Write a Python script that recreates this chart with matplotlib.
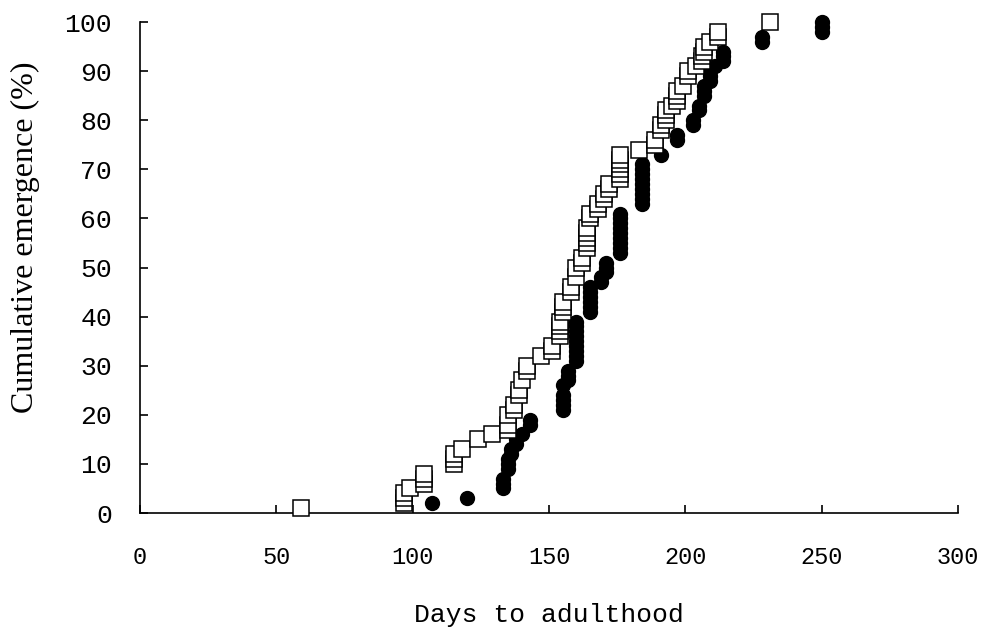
import numpy as np
import matplotlib
matplotlib.use("Agg")
import matplotlib.pyplot as plt

# open squares: days to adulthood and cumulative emergence (%)
sq_days = [59,
           97, 97, 97, 99, 104, 104, 104, 115, 115, 115, 118, 124, 129,
           135, 135, 135, 137, 137, 139, 139, 140, 142, 142, 147, 151, 151,
           154, 154, 154, 154, 155, 155, 155, 158, 158, 160, 160, 162, 162,
           164, 164, 164, 164, 164, 165, 165, 168, 168, 170, 170, 172, 172,
           176, 176, 176, 176, 176, 176, 183, 189, 189, 191, 191,
           193, 193, 193, 195, 197, 197, 197, 199, 201, 201, 204,
           206, 206, 207, 207, 209, 212, 212, 231]
sq_pct = [1,
          2, 3, 4, 5, 6, 7, 8, 10, 11, 12, 13, 15, 16,
          17, 18, 20, 21, 22, 24, 25, 27, 29, 30, 32, 33, 34,
          36, 37, 38, 39, 41, 42, 43, 45, 46, 48, 50, 51, 52,
          54, 55, 56, 57, 58, 60, 61, 62, 63, 64, 65, 66, 67,
          68, 69, 70, 71, 72, 73, 74, 75, 76, 78, 79,
          80, 81, 82, 83, 84, 85, 86, 87, 89, 90, 91,
          92, 93, 94, 95, 96, 97, 98, 100]

# filled circles
ci_days = [107, 120, 133, 133, 133, 135, 135, 135, 136, 136, 138, 138, 140,
           143, 143, 155, 155, 155, 155, 155, 157, 157, 157,
           160, 160, 160, 160, 160, 160, 160, 160, 160,
           165, 165, 165, 165, 165, 165, 169, 169, 171, 171, 171,
           176, 176, 176, 176, 176, 176, 176, 176, 176,
           184, 184, 184, 184, 184, 184, 184, 184, 184,
           191, 197, 197, 203, 203, 205, 205, 207, 207, 207,
           209, 209, 209, 211, 214, 214, 214, 228, 228, 250, 250, 250]
ci_pct = [2, 3, 5, 6, 7, 9, 10, 11, 12, 13, 14, 15, 16,
          18, 19, 21, 22, 23, 24, 26, 27, 28, 29,
          31, 32, 33, 34, 35, 36, 37, 38, 39,
          41, 42, 43, 44, 45, 46, 47, 48, 49, 50, 51,
          53, 54, 55, 56, 57, 58, 59, 60, 61,
          63, 64, 65, 66, 67, 68, 69, 70, 71,
          73, 76, 77, 79, 80, 82, 83, 85, 86, 87,
          88, 89, 90, 91, 92, 93, 94, 96, 97, 98, 99, 100]

x_ticks = [0, 50, 100, 150, 200, 250, 300]
y_ticks = [0, 10, 20, 30, 40, 50, 60, 70, 80, 90, 100]

fig = plt.figure(figsize=(9.87, 6.31), dpi=100)
ax = fig.add_axes([0.1418, 0.187, 0.8288, 0.778])

ax.plot(ci_days, ci_pct, linestyle="none", marker="o", markersize=10,
        markerfacecolor="black", markeredgecolor="black", clip_on=False, zorder=3)
ax.plot(sq_days, sq_pct, linestyle="none", marker="s", markersize=11.5,
        markerfacecolor="white", markeredgecolor="black", markeredgewidth=1.1,
        clip_on=False, zorder=4)

ax.set_xlim(0, 300)
ax.set_ylim(0, 100)
ax.set_xticks(x_ticks)
ax.set_yticks(y_ticks)

for s in ["top", "right"]:
    ax.spines[s].set_visible(False)
for s in ["left", "bottom"]:
    ax.spines[s].set_linewidth(1.2)

ax.tick_params(axis="x", direction="in", length=6, width=1.2, pad=24)
ax.tick_params(axis="y", direction="in", length=6, width=1.2, pad=20)

for lab in ax.get_xticklabels():
    lab.set_fontfamily("Liberation Mono")
    lab.set_fontsize(17)
for lab in ax.get_yticklabels():
    lab.set_fontfamily("Liberation Mono")
    lab.set_fontsize(19)

ax.set_xlabel("Days to adulthood", family="Liberation Mono", fontsize=19, labelpad=24)
ax.set_ylabel("Cumulative emergence (%)", family="Liberation Serif", fontsize=23)
# label sits above the axis middle in the original
ax.yaxis.set_label_coords(-0.122, 0.562)

fig.savefig("out.png", dpi=100)
